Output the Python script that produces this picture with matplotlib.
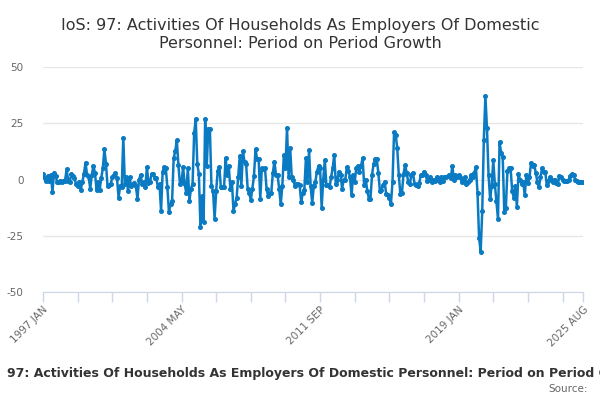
import matplotlib
matplotlib.use("Agg")
from matplotlib import pyplot as plt

TITLE = "IoS: 97: Activities Of Households As Employers Of Domestic\nPersonnel: Period on Period Growth"
SERIES_NAME = "97: Activities Of Households As Employers Of Domestic Personnel: Period on Period Growth"
OUTFILE = "out.png"

# monthly period-on-period growth, 1997 JAN .. 2025 AUG
y1997 = [2.4, 0.5, -0.5, 1.5, -0.5, 2, -5.5, 3, 1.5, -1, -1, -0.5]
y1998 = [-1, -0.5, -0.5, 4.5, -0.5, -1, 2.5, 1.5, 0.5, -2, -3, -1]
y1999 = [-4.5, -1, 2.5, 7.5, 2, 1, -4, 2, 6, 3, -4.5, -1]
y2000 = [-4.5, 0.5, 5, 13.5, 7, -3, -2.5, -2, 1, 2, 3, 0.5]
y2001 = [-8, -3, -3.5, 18.5, -2, 1, -5, 1, -3, -2, -1.5, -3]
y2002 = [-8.5, 0, 2, -2, -1, -3.5, 5.5, -1.5, -1, 2.5, 2.5, 0.5]
y2003 = [0.5, -3.5, -2, -14, 3.5, 5.5, 5, -3.5, -14.5, -11, -9.5, 9.5]
y2004 = [12.5, 17.5, 6.5, -2, -1, 5.5, -2, -6, 5, -9.5, -4, -2]
y2005 = [20.5, 27, 7, 2.5, -21, -7.5, -19, 27, 6, 22.5, 22.5, -3]
y2006 = [-5, -17.5, -5, 4, 5.5, -3.5, -3.5, -3.5, 9.5, 2, 6, -4]
y2007 = [-1, -14, -11, -8, 1, 10.5, -3, 12.5, 8, 7, -4, -6]
y2008 = [-9, -4, 1.5, 13.5, 9, 9, -8.5, 5, 4.5, 5, -4, -7.5]
y2009 = [-6, -6, 3, 8, 2, 2, -4, -11, -3, 11, 5, 23]
y2010 = [1, 14, 1, 0, -3, -2, -2, -2.5, -10, -6, -4.5, 9.5]
y2011 = [-1, 13, -3, -10.5, -3, -1, 3.5, 6, 5, -12.5, 0, 8.5]
y2012 = [-2.5, -2.5, -3.5, 1, 5, 11, -2, 0, 3.5, 2, -4, 0]
y2013 = [0, 5.5, 4, 1, -7, 2, -1, 5, 6, 3.5, 6, 9.5]
y2014 = [-2.5, 0, -5, -8.5, -8.5, 2, 7, 9, 9, 3, -5, -4.5]
y2015 = [-2.5, -1, -6.5, -7, -8, -11, -1, 21, 20, 14, 2, -6.5]
y2016 = [-6, 2.5, 6.5, 3, -1, -2, 2, 3, -2, -2.5, -3, -1.5]
y2017 = [2, 2, 3.5, 2, -0.5, 0, 1, -1, 0, -0.5, 1, 0]
y2018 = [-1, 1, -0.5, 1, 1, 1.5, 2, 0.5, 6, 0, 2, 1]
y2019 = [2, 1, -1, 0, 1, -2, -1, 0, 2, 1, 3, 5.5]
y2020 = [-6, -26, -32, -14, 17.5, 37, 23, 2, -8.5, -3, 8.5, -2]
y2021 = [-9.5, -17.5, 16.5, 12, 10, -14.5, -12.5, 4, 5, 5, -5, -8]
y2022 = [-3, -12, 2.5, 0, -2, -1, -7, 2, -1.5, 1, 7.5, 6]
y2023 = [6.5, 3, -1, -3.5, 1, 5, 3.5, 3.5, -2.5, -0.5, 1, 0]
y2024 = [-1, 0, -1.5, -2, 1.5, 1, 0, -0.5, -0.5, -0.5, 0, 1.5]
y2025 = [2.5, 2, 0, -0.5, -1, -1, -1, -1]

values = (y1997 + y1998 + y1999 + y2000 + y2001 + y2002 + y2003 + y2004 + y2005
          + y2006 + y2007 + y2008 + y2009 + y2010 + y2011 + y2012 + y2013 + y2014
          + y2015 + y2016 + y2017 + y2018 + y2019 + y2020 + y2021 + y2022 + y2023
          + y2024 + y2025)
months = list(range(len(values)))

# ticks every 22 months plus the last month, label every 4th
tick_pos = list(range(0, len(values), 22)) + [len(values) - 1]
label_at = {0: "1997 JAN", 88: "2004 MAY", 176: "2011 SEP", 264: "2019 JAN", 343: "2025 AUG"}
y_ticks = [-50, -25, 0, 25, 50]

fig = plt.figure(figsize=(6, 4), dpi=100)
ax = fig.add_axes([43 / 600, 1 - 292 / 400, 540 / 600, 225 / 400])

ax.plot(months, values, color="#0a7bc2", lw=1.8, marker="o", ms=2.6,
        solid_joinstyle="round", zorder=3)

ax.set_xlim(0, len(values) - 1)
ax.set_ylim(-50, 50)
ax.set_yticks(y_ticks)
ax.set_yticklabels([str(v) for v in y_ticks], color="#666666", fontsize=7.5)
ax.grid(axis="y", color="#e6e6e6", lw=0.9)
ax.set_axisbelow(True)

ax.set_xticks(tick_pos)
ax.set_xticklabels([label_at.get(p, "") for p in tick_pos], rotation=45,
                   ha="right", rotation_mode="anchor", color="#666666",
                   fontsize=7.5)
ax.tick_params(axis="x", length=7, color="#ccd6eb", width=1, pad=2)
ax.tick_params(axis="y", length=0, pad=14)

for side in ["top", "right", "left"]:
    ax.spines[side].set_visible(False)
ax.spines["bottom"].set_color("#ccd6eb")

fig.text(0.5, 0.955, TITLE, ha="center", va="top", fontsize=11.5,
         color="#333333", linespacing=1.25)
fig.text(7 / 600, 1 - 373 / 400, SERIES_NAME, ha="left", va="center",
         fontsize=9, fontweight="bold", color="#333333")
fig.text(588 / 600, 1 - 389 / 400, "Source:", ha="right", va="center",
         fontsize=7.5, color="#666666")

fig.savefig(OUTFILE, dpi=100)
